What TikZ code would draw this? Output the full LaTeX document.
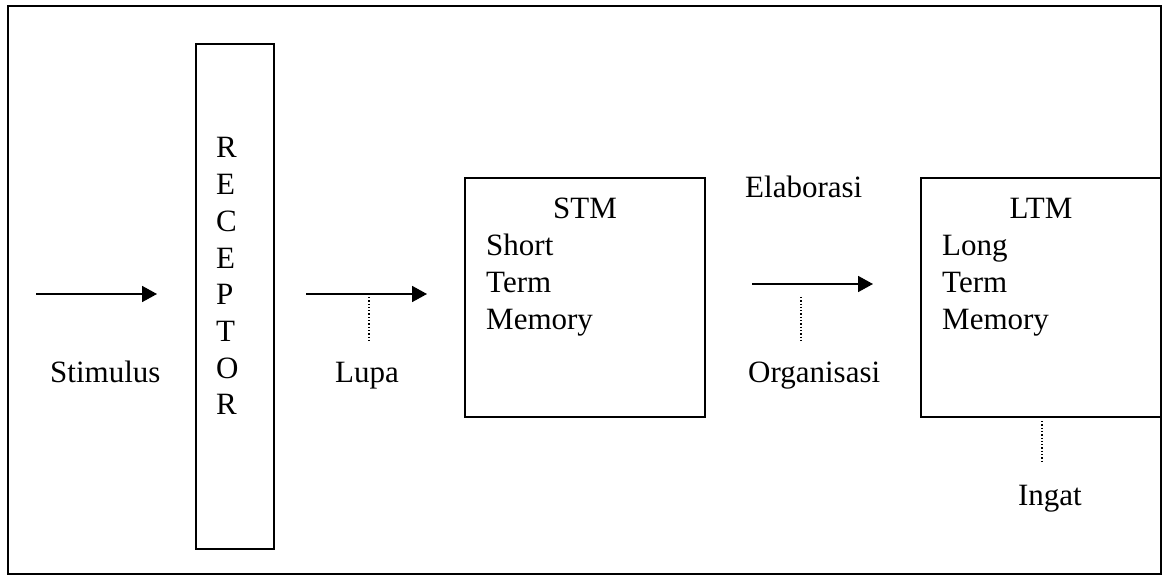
\documentclass[tikz,border=0pt]{standalone}
\usepackage{fontspec}
\setmainfont{Liberation Serif}
\usetikzlibrary{arrows.meta}
\begin{document}
\begin{tikzpicture}[x=1pt,y=-1pt]
\tikzset{
  frame/.style={draw, line width=2pt},
  box/.style={draw, line width=2pt, inner sep=0pt, outer sep=0pt},
  lbl/.style={font=\fontsize{31}{36.7}\selectfont, inner sep=0pt, anchor=base west},
  clbl/.style={lbl, anchor=base},
  flow/.style={line width=1.8pt, -{Triangle[length=15pt,width=16pt]}},
  tick/.style={dotted, line width=1.3pt},
}
\useasboundingbox (0,0) rectangle (1168,580);
\draw[frame] (8,6) rectangle (1161,574);

% receptor column
\node[box, anchor=north west, minimum width=78pt, minimum height=505pt] (rec) at (196,44) {};
\foreach \c [count=\i from 0] in {R,E,C,E,P,T,O,R}
  \node[lbl] (rc\i) at (216,158+36.7*\i) {\c};

% short term memory
\node[box, anchor=north west, minimum width=240pt, minimum height=239pt] (stm) at (465,178) {};
\node[clbl] (stmT) at (585,219) {STM};
\node[lbl] (stm1) at (486,256) {Short};
\node[lbl] (stm2) at (486,292.7) {Term};
\node[lbl] (stm3) at (486,329.4) {Memory};

% long term memory (its right side is the frame)
\coordinate (ltmA) at (1161,178);
\coordinate (ltmB) at (921,178);
\coordinate (ltmC) at (921,417);
\coordinate (ltmD) at (1161,417);
\draw[line width=2pt] (ltmA) -- (ltmB) -- (ltmC) -- (ltmD);
\node[clbl] (ltmT) at (1041,219) {LTM};
\node[lbl] (ltm1) at (942,256) {Long};
\node[lbl] (ltm2) at (942,292.7) {Term};
\node[lbl] (ltm3) at (942,329.4) {Memory};

% arrows
\coordinate (a1s) at (36,294);  \coordinate (a1e) at (157,294);
\coordinate (a2s) at (306,294); \coordinate (a2e) at (427,294);
\coordinate (a3s) at (752,284); \coordinate (a3e) at (873,284);
\draw[flow] (a1s) -- (a1e);
\draw[flow] (a2s) -- (a2e);
\draw[flow] (a3s) -- (a3e);

% dotted ticks
\coordinate (d1s) at (369,297);  \coordinate (d1e) at (369,343);
\coordinate (d2s) at (801,297);  \coordinate (d2e) at (801,343);
\coordinate (d3s) at (1042,421); \coordinate (d3e) at (1042,463);
\draw[tick] (d1s) -- (d1e);
\draw[tick] (d2s) -- (d2e);
\draw[tick] (d3s) -- (d3e);

% labels
\node[lbl] (stim) at (50,382) {Stimulus};
\node[lbl] (lupa) at (335,382) {Lupa};
\node[lbl] (org) at (748,382) {Organisasi};
\node[lbl] (elab) at (745,198) {Elaborasi};
\node[clbl] (ing) at (1050,505) {Ingat};
\end{tikzpicture}
\end{document}
